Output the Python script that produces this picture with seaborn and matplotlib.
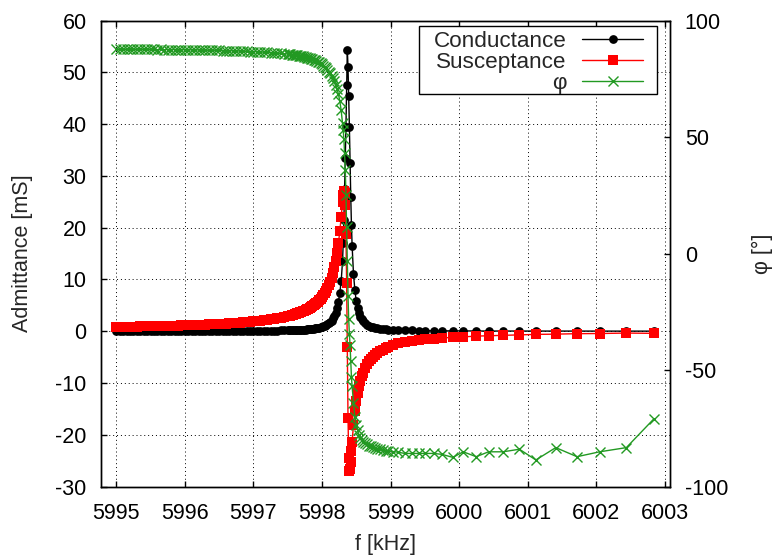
import numpy as np
import pandas as pd
import matplotlib
matplotlib.use("Agg")
import matplotlib.pyplot as plt
from matplotlib.patches import Rectangle
import seaborn as sns

# Frequency sweep around the resonance [kHz]
freq_khz = [
    5995.00, 5995.05, 5995.10, 5995.15, 5995.20, 5995.25, 5995.30, 5995.35, 5995.40, 5995.45,
    5995.50, 5995.55, 5995.60, 5995.65, 5995.70, 5995.75, 5995.80, 5995.85, 5995.90, 5995.95,
    5996.00, 5996.05, 5996.10, 5996.15, 5996.20, 5996.25, 5996.30, 5996.35, 5996.40, 5996.45,
    5996.50, 5996.55, 5996.60, 5996.65, 5996.70, 5996.75, 5996.80, 5996.85, 5996.90, 5996.95,
    5997.00, 5997.05, 5997.10, 5997.15, 5997.20, 5997.25, 5997.30, 5997.35, 5997.40, 5997.45,
    5997.50,
    5997.52, 5997.54, 5997.56, 5997.58, 5997.60, 5997.62, 5997.64, 5997.66, 5997.68, 5997.70,
    5997.72, 5997.74, 5997.76, 5997.78, 5997.80, 5997.82, 5997.84, 5997.86, 5997.88, 5997.90,
    5997.92, 5997.94, 5997.96, 5997.98, 5998.00, 5998.02, 5998.04, 5998.06, 5998.08, 5998.10,
    5998.12, 5998.14, 5998.16, 5998.18, 5998.20, 5998.22, 5998.24, 5998.26, 5998.28, 5998.30,
    5998.31, 5998.32, 5998.33, 5998.34, 5998.35, 5998.36, 5998.37, 5998.38, 5998.39, 5998.40,
    5998.41, 5998.42, 5998.43, 5998.44,
    5998.46, 5998.48, 5998.50, 5998.52, 5998.54, 5998.56, 5998.58, 5998.60,
    5998.63, 5998.66, 5998.69, 5998.72, 5998.75, 5998.78, 5998.81, 5998.85, 5998.89, 5998.93,
    5998.97,
    5999.04, 5999.11, 5999.21, 5999.31, 5999.41, 5999.50, 5999.63, 5999.75, 5999.91, 6000.06,
    6000.25, 6000.43, 6000.64, 6000.88, 6001.12, 6001.41, 6001.72, 6002.05, 6002.44, 6002.84,
]

# Conductance G [mS]
conductance_ms = [
    0.030, 0.030, 0.030, 0.031, 0.031, 0.031, 0.032, 0.032, 0.033, 0.033,
    0.033, 0.034, 0.034, 0.035, 0.036, 0.036, 0.037, 0.037, 0.038, 0.039,
    0.040, 0.041, 0.041, 0.042, 0.043, 0.045, 0.046, 0.047, 0.049, 0.050,
    0.052, 0.053, 0.055, 0.057, 0.060, 0.062, 0.065, 0.068, 0.071, 0.075,
    0.079, 0.084, 0.089, 0.094, 0.101, 0.108, 0.117, 0.127, 0.138, 0.151,
    0.167,
    0.173, 0.181, 0.189, 0.197, 0.207, 0.217, 0.228, 0.239, 0.252, 0.266,
    0.282, 0.299, 0.317, 0.338, 0.360, 0.385, 0.413, 0.444, 0.480, 0.520,
    0.565, 0.616, 0.675, 0.744, 0.824, 0.917, 1.03, 1.16, 1.32, 1.52,
    1.76, 2.06, 2.46, 2.98, 3.60, 4.50, 5.70, 7.40, 9.60, 13.5,
    17.0, 21.5, 27.5, 33.5, 39.5, 47.5, 54.4, 51.0, 45.5, 39.5,
    32.5, 26.0, 20.5, 16.5,
    11.0, 8.0, 5.8, 4.4, 3.5, 2.8, 2.35, 2.0,
    1.56, 1.26, 1.04, 0.88, 0.75, 0.64, 0.56, 0.47, 0.40, 0.35,
    0.30,
    0.27, 0.22, 0.18, 0.15, 0.12, 0.10, 0.08, 0.07, 0.06, 0.05,
    0.04, 0.03, 0.03, 0.02, 0.02, 0.02, 0.01, 0.01, 0.01, 0.01,
]

# Susceptance B [mS]
susceptance_ms = [
    0.82, 0.83, 0.84, 0.86, 0.87, 0.88, 0.89, 0.91, 0.92, 0.93,
    0.95, 0.96, 0.98, 0.99, 1.01, 1.03, 1.05, 1.07, 1.08, 1.10,
    1.13, 1.15, 1.17, 1.20, 1.22, 1.25, 1.28, 1.30, 1.33, 1.37,
    1.40, 1.44, 1.47, 1.51, 1.56, 1.60, 1.65, 1.70, 1.76, 1.81,
    1.88, 1.94, 2.02, 2.10, 2.18, 2.27, 2.38, 2.49, 2.61, 2.75,
    2.90,
    2.96, 3.03, 3.10, 3.17, 3.25, 3.34, 3.43, 3.52, 3.62, 3.72,
    3.83, 3.95, 4.07, 4.21, 4.35, 4.51, 4.67, 4.85, 5.04, 5.25,
    5.47, 5.72, 5.98, 6.28, 6.61, 6.97, 7.37, 7.82, 8.34, 8.92,
    9.59, 10.36, 11.26, 12.35, 13.62, 15.15, 16.99, 19.27, 21.98, 24.95,
    26.3, 27.0, 26.7, 24.3, 18.7, 9.4, -3.1, -16.7, -24.5, -27.0,
    -26.7, -25.2, -23.2, -21.4,
    -18.04, -15.46, -13.45, -11.87, -10.61, -9.58, -8.72, -8.01,
    -7.12, -6.41, -5.83, -5.35, -4.93, -4.58, -4.27, -3.92, -3.62, -3.25,
    -3.00,
    -2.60, -2.35, -2.05, -1.80, -1.65, -1.55, -1.42, -1.30, -1.20, -1.10,
    -0.95, -0.88, -0.78, -0.72, -0.62, -0.57, -0.48, -0.45, -0.36, -0.42,
]

# Phase angle [deg]
phase_deg = [
    87.7, 87.6, 87.7, 87.6, 87.7, 87.6, 87.6, 87.7, 87.6, 87.6,
    87.6, 87.6, 87.5, 87.6, 87.5, 87.5, 87.5, 87.5, 87.4, 87.5,
    87.4, 87.4, 87.4, 87.3, 87.4, 87.3, 87.3, 87.2, 87.3, 87.2,
    87.2, 87.1, 87.1, 87.0, 87.0, 86.9, 86.9, 86.8, 86.8, 86.7,
    86.6, 86.6, 86.5, 86.4, 86.3, 86.2, 86.1, 86.0, 85.9, 85.8,
    85.6,
    85.6, 85.5, 85.4, 85.3, 85.2, 85.1, 85.0, 84.9, 84.8, 84.7,
    84.6, 84.4, 84.3, 84.1, 84.0, 83.8, 83.6, 83.4, 83.2, 82.9,
    82.6, 82.3, 82.0, 81.6, 81.2, 80.7, 80.2, 79.6, 78.9, 78.1,
    77.3, 76.3, 75.2, 73.9, 72.4, 70.6, 68.4, 65.5, 61.5, 56.0,
    53.0, 49.0, 43.0, 36.0, 25.3, 11.2, -3.3, -18.1, -28.3, -34.4,
    -39.4, -46.0, -53.0, -57.0,
    -64.0, -70.0, -73.5, -75.8, -77.8, -79.0, -80.0, -80.7,
    -81.3, -81.9, -82.4, -82.8, -83.2, -83.5, -83.8, -84.0, -84.4, -84.6,
    -84.8,
    -85.0, -85.3, -85.8, -85.8, -85.8, -85.8, -85.8, -86.2, -87.5, -85.1,
    -87.2, -85.1, -85.1, -84.0, -88.6, -83.3, -87.2, -85.1, -83.3, -71.0,
]

x_ticks = [5995, 5996, 5997, 5998, 5999, 6000, 6001, 6002, 6003]
y_ticks = [-30, -20, -10, 0, 10, 20, 30, 40, 50, 60]
y2_ticks = [-100, -50, 0, 50, 100]

df = pd.DataFrame({
    "f": freq_khz,
    "G": conductance_ms,
    "B": susceptance_ms,
    "phi": phase_deg,
})

sns.set_style("white")
plt.rcParams["font.family"] = ["Liberation Sans", "DejaVu Sans"]
plt.rcParams["axes.unicode_minus"] = False
FS = 15.5

fig = plt.figure(figsize=(7.78, 5.58), dpi=100)
ax = fig.add_axes([0.1292, 0.1281, 0.7314, 0.8351])
ax2 = ax.twinx()

BLACK = "#000000"
RED = "#ff0000"
GREEN = "#229922"

sns.lineplot(data=df, x="f", y="G", ax=ax, sort=False, estimator=None,
             color=BLACK, linewidth=1.0, marker="o", markersize=6.3,
             markeredgewidth=0, markeredgecolor=BLACK, markerfacecolor=BLACK,
             label="Conductance", zorder=3)
sns.lineplot(data=df, x="f", y="B", ax=ax, sort=False, estimator=None,
             color=RED, linewidth=1.0, marker="s", markersize=6.8,
             markeredgewidth=0, markeredgecolor=RED, markerfacecolor=RED,
             label="Susceptance", zorder=4)
sns.lineplot(data=df, x="f", y="phi", ax=ax2, sort=False, estimator=None,
             color=GREEN, linewidth=1.0, marker="x", markersize=6.8,
             markeredgewidth=1.0, markeredgecolor=GREEN,
             label="φ", zorder=5)

ax.set_xlim(5994.77, 6003.07)
ax.set_ylim(-30, 60)
ax2.set_ylim(-100, 100)
ax.set_xticks(x_ticks)
ax.set_yticks(y_ticks)
ax2.set_yticks(y2_ticks)
ax.set_xlabel("")
ax.set_ylabel("")
ax2.set_ylabel("")

ax.grid(True, color="black", linewidth=0.7, linestyle=(0, (1, 3)))
ax.set_axisbelow(True)

for a in (ax, ax2):
    for s in a.spines.values():
        s.set_color("black")
        s.set_linewidth(1.0)

ax.tick_params(axis="x", direction="in", length=4.5, width=1, top=True,
               bottom=True, labelsize=FS, pad=12, colors="black")
ax.tick_params(axis="y", direction="in", length=4.5, width=1, left=True,
               right=False, labelsize=FS, pad=10, colors="black")
ax2.tick_params(axis="y", direction="in", length=4.5, width=1, right=True,
                left=False, labelsize=FS, pad=11, colors="black")

# combined key in the upper right corner, inside its own white box
h1, l1 = ax.get_legend_handles_labels()
h2, l2 = ax2.get_legend_handles_labels()
if ax.get_legend() is not None:
    ax.get_legend().remove()
if ax2.get_legend() is not None:
    ax2.get_legend().remove()

key_box = Rectangle((0.5598, 0.8423), 0.4182, 0.1459, transform=ax2.transAxes,
                    facecolor="white", edgecolor="black", linewidth=1.0,
                    zorder=6)
ax2.add_patch(key_box)

leg = ax2.legend(h1 + h2, l1 + l2, loc="upper right",
                 bbox_to_anchor=(0.9534, 0.9775), borderaxespad=0,
                 markerfirst=False, fontsize=16.2, frameon=False,
                 handlelength=2.7, handletextpad=0.7, labelspacing=0.0,
                 borderpad=0.0)
leg.set_zorder(7)

fig.text(0.0283, 0.5457, "Admittance [mS]", rotation=90, ha="center",
         va="center", fontsize=FS)
fig.text(0.4949, 0.0245, "f [kHz]", ha="center", va="center", fontsize=FS)
fig.text(0.9794, 0.5457, "φ [°]", rotation=90, ha="center", va="center",
         fontsize=FS)

fig.savefig("out.png", dpi=100)
